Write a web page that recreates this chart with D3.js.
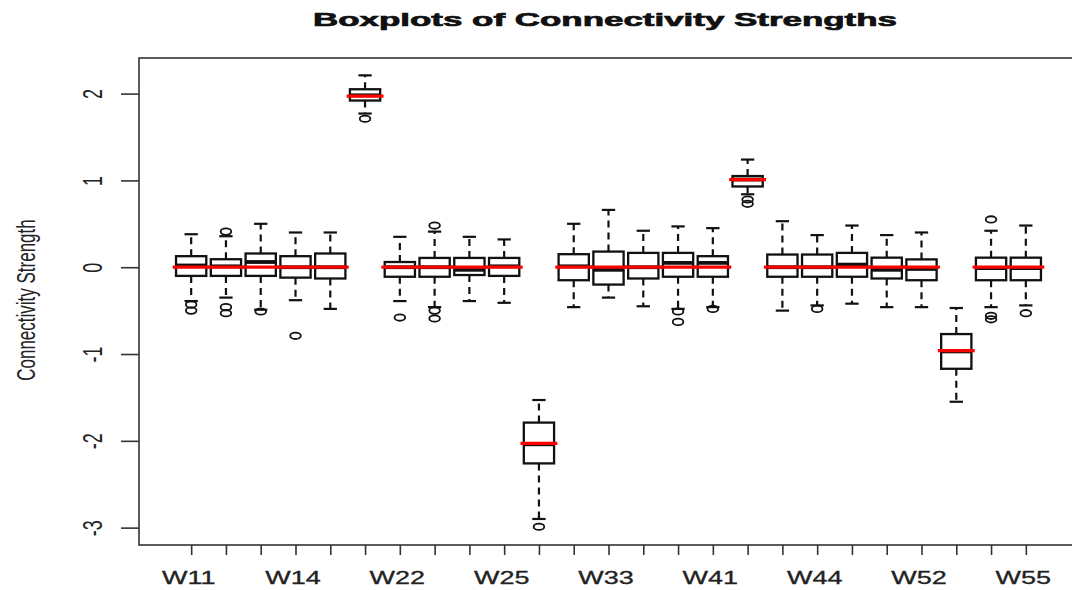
<!DOCTYPE html>
<html>
<head>
<meta charset="utf-8">
<script src="https://cdn.jsdelivr.net/npm/d3@7"></script>
<style>
  body { margin: 0; background: #fff; }
  text { font-family: "Liberation Sans", Arial, sans-serif; }
</style>
</head>
<body>
<svg id="chart" width="1072" height="590"></svg>
<script>
// connection names (5x5)
const names = ["W11","W12","W13","W14","W15","W21","W22","W23","W24","W25",
               "W31","W32","W33","W34","W35","W41","W42","W43","W44","W45",
               "W51","W52","W53","W54","W55"];
// box statistics
const lower  = [-0.39,-0.35,-0.49,-0.38,-0.48, 1.77,-0.39,-0.46,-0.39,-0.41,
                -2.90,-0.46,-0.35,-0.45,-0.48,-0.46, 0.84,-0.50,-0.44,-0.42,
                -0.46,-0.46,-1.55,-0.46,-0.44];
const q1     = [-0.10,-0.10,-0.10,-0.12,-0.13, 1.92,-0.11,-0.11,-0.09,-0.10,
                -2.26,-0.15,-0.20,-0.13,-0.11,-0.11, 0.93,-0.11,-0.11,-0.11,
                -0.13,-0.15,-1.17,-0.15,-0.15];
const median = [0.02, 0.01, 0.06, 0.00, 0.00, 1.98, 0.00, 0.00,-0.03, 0.01,
                -2.04, 0.01,-0.03, 0.00, 0.05, 0.05, 1.01, 0.00, 0.00, 0.03,
                -0.03,-0.02,-0.97,-0.01,-0.01];
const q3     = [0.127,0.092,0.158,0.127,0.158, 2.05,0.06,0.107,0.107,0.107,
                -1.79,0.15,0.18,0.165,0.165,0.127, 1.05,0.146,0.146,0.165,
                0.11,0.09,-0.77,0.11,0.11];
const upper  = [0.38, 0.357,0.50, 0.40, 0.40, 2.21, 0.35, 0.41, 0.35, 0.32,
                -1.53, 0.50, 0.66, 0.42, 0.47, 0.45, 1.24, 0.53, 0.37, 0.48,
                0.37, 0.40,-0.47, 0.42, 0.48];
const outliers = [[-0.43,-0.50],[0.41,-0.46,-0.53],[-0.51],[-0.79],[],
                  [1.71],[-0.58],[0.48,-0.50,-0.59],[],[],
                  [-2.99],[],[],[],[-0.51,-0.63],
                  [-0.48],[0.78,0.73],[],[-0.48],[],
                  [],[],[],[0.55,-0.56,-0.60],[-0.53]];
// true connectivity values (red)
const truth = [0,0,0,0,0, 1.97,0,0,0,0, -2.03,0,0,0,0, 0,1.01,0,0,0, 0,0,-0.96,0,0];
const yTicks = [-3,-2,-1,0,1,2];

const SX = 1.5; // horizontal stretch of the original raster
const svg = d3.select("#chart");
const pLeft = 139, pTop = 58, pBottom = 545, pRight = 1078;

const x = d3.scaleLinear().domain([-0.5, 26.5]).range([pLeft, pRight]);
const y = d3.scaleLinear().domain([-3.2, 2.41]).range([pBottom, pTop]);
const step = x(1) - x(0);
const bw = 0.87 * step;

// frame
svg.append("rect")
  .attr("x", pLeft).attr("y", pTop)
  .attr("width", pRight - pLeft).attr("height", pBottom - pTop)
  .attr("fill", "none").attr("stroke", "#333").attr("stroke-width", 1.6);

// x axis
const xa = svg.append("g")
  .attr("transform", `translate(0,${pBottom})`)
  .call(d3.axisBottom(x).tickValues(d3.range(1, 26)).tickSize(10)
    .tickFormat(d => (d - 1) % 3 === 0 ? names[d - 1] : ""));
xa.select(".domain").remove();
xa.selectAll("line").attr("stroke", "#333").attr("stroke-width", 1.6);
xa.selectAll("text")
  .attr("y", 39).attr("dy", 0).attr("x", -2)
  .attr("transform", `scale(${SX},1)`)
  .attr("fill", "#222").attr("stroke", "#222").attr("stroke-width", 0.3)
  .attr("font-size", 18)
  .attr("font-family", "Liberation Sans, Arial, sans-serif");

// y axis
const ya = svg.append("g")
  .attr("transform", `translate(${pLeft},0)`)
  .call(d3.axisLeft(y).tickValues(yTicks).tickSize(18).tickFormat(d => String(d).replace("−", "-")));
ya.select(".domain").remove();
ya.selectAll("line").attr("stroke", "#333").attr("stroke-width", 1.6);
ya.selectAll("text")
  .attr("x", 0).attr("dy", 0).attr("y", 0)
  .attr("text-anchor", "middle").attr("dominant-baseline", "central")
  .attr("transform", `translate(-46,0) scale(${SX},1) rotate(-90)`)
  .attr("fill", "#222").attr("font-size", 18)
  .attr("font-family", "Liberation Sans, Arial, sans-serif");

// boxes
const idx = d3.range(names.length);
const g = svg.append("g").attr("stroke", "#111").attr("fill", "none");
const box = g.selectAll("g.box").data(idx).join("g").attr("class", "box");

box.append("line") // upper whisker
  .attr("x1", i => x(i + 1)).attr("x2", i => x(i + 1))
  .attr("y1", i => y(q3[i])).attr("y2", i => y(upper[i]))
  .attr("stroke-width", 2.2).attr("stroke-dasharray", "7,5");
box.append("line") // lower whisker
  .attr("x1", i => x(i + 1)).attr("x2", i => x(i + 1))
  .attr("y1", i => y(q1[i])).attr("y2", i => y(lower[i]))
  .attr("stroke-width", 2.2).attr("stroke-dasharray", "7,5");
box.append("line")
  .attr("x1", i => x(i + 1) - bw * 0.22).attr("x2", i => x(i + 1) + bw * 0.22)
  .attr("y1", i => y(upper[i])).attr("y2", i => y(upper[i]))
  .attr("stroke-width", 2.2);
box.append("line")
  .attr("x1", i => x(i + 1) - bw * 0.22).attr("x2", i => x(i + 1) + bw * 0.22)
  .attr("y1", i => y(lower[i])).attr("y2", i => y(lower[i]))
  .attr("stroke-width", 2.2);
box.append("rect")
  .attr("x", i => x(i + 1) - bw / 2).attr("width", bw)
  .attr("y", i => y(q3[i])).attr("height", i => y(q1[i]) - y(q3[i]))
  .attr("fill", "#fff").attr("stroke-width", 2.3);
box.append("line")
  .attr("x1", i => x(i + 1) - bw / 2).attr("x2", i => x(i + 1) + bw / 2)
  .attr("y1", i => y(median[i])).attr("y2", i => y(median[i]))
  .attr("stroke-width", 3.8);
box.selectAll("ellipse")
  .data(i => outliers[i].map(v => ({ i, v })))
  .join("ellipse")
  .attr("cx", d => x(d.i + 1)).attr("cy", d => y(d.v))
  .attr("rx", 5.3).attr("ry", 3.2).attr("stroke-width", 1.8);

// true values in red
svg.append("g").selectAll("line").data(idx).join("line")
  .attr("x1", i => x(i + 1) - 0.53 * step).attr("x2", i => x(i + 1) + 0.53 * step)
  .attr("y1", i => y(truth[i])).attr("y2", i => y(truth[i]))
  .attr("stroke", "#f00").attr("stroke-width", 3.3);

// title
svg.append("text")
  .attr("x", 605).attr("y", 26)
  .attr("text-anchor", "middle")
  .attr("font-weight", "bold").attr("font-size", 19)
  .attr("textLength", 584).attr("lengthAdjust", "spacingAndGlyphs")
  .attr("fill", "#111").attr("stroke", "#111").attr("stroke-width", 0.7)
  .text("Boxplots of Connectivity Strengths");

// y label
svg.append("text")
  .attr("text-anchor", "middle").attr("dominant-baseline", "central")
  .attr("transform", `translate(26,300) scale(${SX},1) rotate(-90)`)
  .attr("font-size", 17).attr("fill", "#222")
  .text("Connectivity Strength");
</script>
</body>
</html>
